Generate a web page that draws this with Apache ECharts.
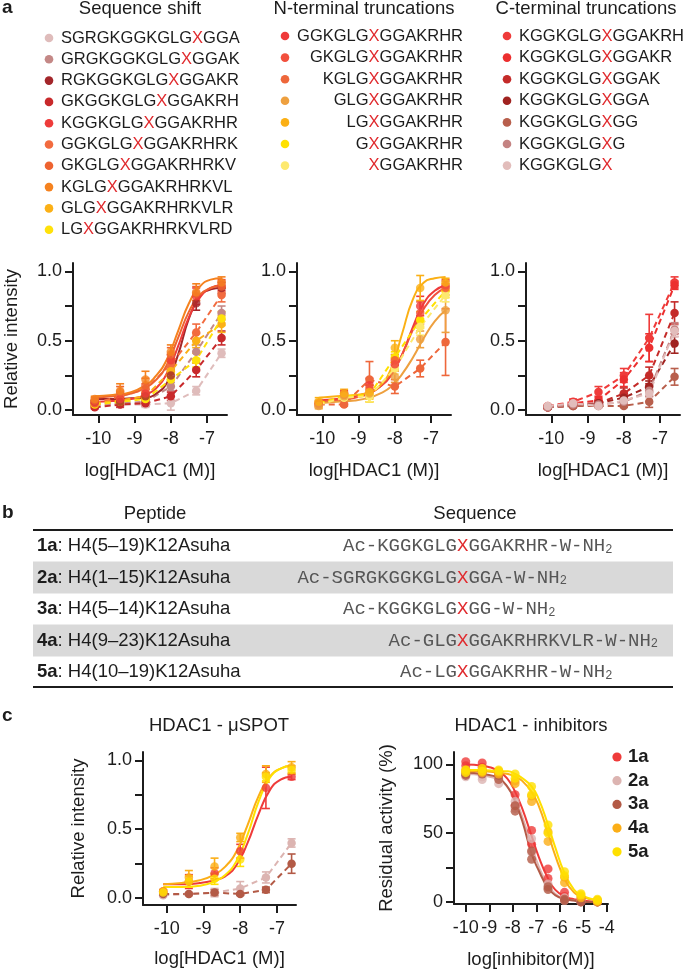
<!DOCTYPE html>
<html>
<head>
<meta charset="utf-8">
<script src="https://cdn.jsdelivr.net/npm/echarts@6.0.0/dist/echarts.min.js"></script>
<style>
html, body { margin: 0; padding: 0; background: #fff; }
#chart { width: 685px; height: 970px; }
</style>
</head>
<body>
<div id="chart"></div>
<script>
// ---------- data ----------
// HDAC1 concentrations (log M) used in the uSPOT titrations
var xHdac = [-10.1, -9.4, -8.7, -8.0, -7.3, -6.6];
var fitX = [-10.1, -9.6, -9.1, -8.7, -8.4, -8.1, -7.8, -7.5, -7.2, -6.9, -6.6];

// a, sequence shift
var shiftNames = ['SGRGKGGKGLGXGGA', 'GRGKGGKGLGXGGAK', 'RGKGGKGLGXGGAKR', 'GKGGKGLGXGGAKRH', 'KGGKGLGXGGAKRHR',
                  'GGKGLGXGGAKRHRK', 'GKGLGXGGAKRHRKV', 'KGLGXGGAKRHRKVL', 'GLGXGGAKRHRKVLR', 'LGXGGAKRHRKVLRD'];
var shiftColors = ['#dfbcbb', '#c48886', '#a3262a', '#c8292b', '#ee3b3a', '#f26b3f', '#ee6330', '#f5821f', '#fbb016', '#ffe10a'];
var shiftY = [
  [0.03, 0.04, 0.04, 0.05, 0.14, 0.41],
  [0.04, 0.05, 0.06, 0.17, 0.42, 0.70],
  [0.06, 0.06, 0.10, 0.25, 0.77, 0.88],
  [0.02, 0.04, 0.05, 0.10, 0.29, 0.52],
  [0.05, 0.08, 0.12, 0.36, 0.82, 0.90],
  [0.05, 0.10, 0.15, 0.33, 0.56, 0.83],
  [0.07, 0.13, 0.18, 0.40, 0.84, 0.89],
  [0.08, 0.14, 0.22, 0.42, 0.85, 0.92],
  [0.05, 0.07, 0.10, 0.28, 0.50, 0.62],
  [0.04, 0.06, 0.08, 0.22, 0.36, 0.66]
];
var shiftSD = [
  [0.01, 0.01, 0.02, 0.05, 0.03, 0.03],
  [0.01, 0.02, 0.02, 0.03, 0.05, 0.05],
  [0.01, 0.02, 0.02, 0.03, 0.05, 0.04],
  [0.01, 0.02, 0.02, 0.03, 0.05, 0.05],
  [0.02, 0.02, 0.03, 0.04, 0.06, 0.04],
  [0.02, 0.03, 0.04, 0.04, 0.06, 0.05],
  [0.02, 0.04, 0.05, 0.05, 0.05, 0.04],
  [0.02, 0.05, 0.06, 0.05, 0.06, 0.04],
  [0.02, 0.03, 0.03, 0.04, 0.05, 0.06],
  [0.02, 0.02, 0.03, 0.04, 0.05, 0.05]
];
var shiftFit = [null, null,
  [0.08, 0.08, 0.085, 0.09, 0.12, 0.20, 0.40, 0.66, 0.82, 0.87, 0.88],
  null,
  [0.06, 0.065, 0.08, 0.11, 0.16, 0.27, 0.46, 0.67, 0.81, 0.88, 0.90],
  null,
  [0.09, 0.10, 0.12, 0.16, 0.22, 0.33, 0.52, 0.71, 0.83, 0.88, 0.90],
  [0.10, 0.11, 0.13, 0.18, 0.25, 0.37, 0.57, 0.77, 0.89, 0.94, 0.95],
  null, null];

// a, N-terminal truncations
var ntermNames = ['GGKGLGXGGAKRHR', 'GKGLGXGGAKRHR', 'KGLGXGGAKRHR', 'GLGXGGAKRHR', 'LGXGGAKRHR', 'GXGGAKRHR', 'XGGAKRHR'];
var ntermColors = ['#ef3a3a', '#f2503d', '#ee673b', '#eea03f', '#fbb015', '#ffe100', '#fde96e'];
var ntermY = [
  [0.05, 0.12, 0.18, 0.33, 0.75, 0.90],
  [0.04, 0.11, 0.15, 0.36, 0.70, 0.88],
  [0.04, 0.04, 0.22, 0.17, 0.30, 0.49],
  [0.03, 0.10, 0.12, 0.24, 0.51, 0.72],
  [0.06, 0.12, 0.13, 0.45, 0.88, 0.92],
  [0.05, 0.10, 0.11, 0.38, 0.65, 0.86],
  [0.04, 0.09, 0.10, 0.30, 0.60, 0.83]
];
var ntermSD = [
  [0.02, 0.02, 0.05, 0.04, 0.07, 0.04],
  [0.02, 0.02, 0.05, 0.04, 0.08, 0.05],
  [0.02, 0.01, 0.13, 0.05, 0.06, 0.24],
  [0.02, 0.02, 0.06, 0.04, 0.06, 0.16],
  [0.03, 0.03, 0.05, 0.05, 0.09, 0.03],
  [0.02, 0.02, 0.05, 0.04, 0.06, 0.05],
  [0.02, 0.02, 0.04, 0.04, 0.06, 0.05]
];
var ntermFit = [
  [0.07, 0.08, 0.10, 0.13, 0.17, 0.25, 0.40, 0.60, 0.77, 0.86, 0.90],
  [0.06, 0.07, 0.09, 0.12, 0.17, 0.26, 0.40, 0.58, 0.73, 0.83, 0.88],
  null,
  [0.05, 0.06, 0.07, 0.09, 0.12, 0.17, 0.26, 0.38, 0.52, 0.64, 0.72],
  [0.09, 0.10, 0.11, 0.13, 0.18, 0.30, 0.55, 0.80, 0.92, 0.95, 0.96],
  null, null];

// a, C-terminal truncations
var ctermNames = ['KGGKGLGXGGAKRH', 'KGGKGLGXGGAKR', 'KGGKGLGXGGAK', 'KGGKGLGXGGA', 'KGGKGLGXGG', 'KGGKGLGXG', 'KGGKGLGX'];
var ctermColors = ['#ef3b3a', '#ec2f2f', '#c42b29', '#a02320', '#b85f4c', '#c48382', '#e2bdbb'];
var ctermY = [
  [0.03, 0.06, 0.13, 0.25, 0.52, 0.92],
  [0.02, 0.05, 0.07, 0.22, 0.45, 0.90],
  [0.02, 0.04, 0.05, 0.12, 0.25, 0.70],
  [0.02, 0.03, 0.05, 0.09, 0.17, 0.48],
  [0.02, 0.03, 0.03, 0.03, 0.06, 0.24],
  [0.02, 0.04, 0.04, 0.06, 0.14, 0.58],
  [0.03, 0.05, 0.03, 0.07, 0.12, 0.57]
];
var ctermSD = [
  [0.01, 0.02, 0.04, 0.05, 0.17, 0.04],
  [0.01, 0.02, 0.03, 0.05, 0.10, 0.03],
  [0.01, 0.01, 0.02, 0.04, 0.06, 0.08],
  [0.01, 0.01, 0.02, 0.03, 0.04, 0.07],
  [0.01, 0.01, 0.01, 0.01, 0.04, 0.06],
  [0.01, 0.01, 0.02, 0.02, 0.04, 0.05],
  [0.01, 0.01, 0.01, 0.02, 0.03, 0.04]
];
var ctermFit = [null, null, null, null, null, null, null];

// b, peptides
var pepIds = ['1a', '2a', '3a', '4a', '5a'];
var pepNames = ['H4(5\u201319)K12Asuha', 'H4(1\u201315)K12Asuha', 'H4(5\u201314)K12Asuha', 'H4(9\u201323)K12Asuha', 'H4(10\u201319)K12Asuha'];
var pepSeqs = ['Ac-KGGKGLGXGGAKRHR-W-NH', 'Ac-SGRGKGGKGLGXGGA-W-NH', 'Ac-KGGKGLGXGG-W-NH', 'Ac-GLGXGGAKRHRKVLR-W-NH', 'Ac-LGXGGAKRHR-W-NH'];

// c, uSPOT of the five peptides
var pepColors = ['#ef3b3a', '#dcb4b1', '#b35a46', '#fbae17', '#ffe000'];
var spotY = [
  [0.05, 0.12, 0.18, 0.34, 0.80, 0.88],
  [0.02, 0.03, 0.04, 0.07, 0.15, 0.40],
  [0.03, 0.03, 0.04, 0.03, 0.06, 0.25],
  [0.05, 0.15, 0.23, 0.44, 0.90, 0.95],
  [0.04, 0.12, 0.14, 0.28, 0.88, 0.93]
];
var spotSD = [
  [0.01, 0.05, 0.04, 0.05, 0.15, 0.02],
  [0.01, 0.01, 0.03, 0.05, 0.04, 0.03],
  [0.01, 0.01, 0.02, 0.01, 0.02, 0.07],
  [0.01, 0.05, 0.06, 0.03, 0.06, 0.04],
  [0.01, 0.04, 0.04, 0.05, 0.03, 0.03]
];
var spotFit = [
  [0.10, 0.10, 0.11, 0.13, 0.16, 0.24, 0.40, 0.61, 0.78, 0.86, 0.88],
  null, null,
  [0.10, 0.11, 0.13, 0.17, 0.23, 0.34, 0.53, 0.74, 0.88, 0.94, 0.96],
  [0.08, 0.08, 0.09, 0.12, 0.17, 0.27, 0.46, 0.70, 0.87, 0.94, 0.96]
];

// c, inhibition (two replicates per concentration)
var inhX = [-10, -9.3, -8.6, -7.9, -7.2, -6.5, -5.8, -5.1, -4.4];
var inhRep1 = [
  [102, 101, 95, 78, 52, 24, 7, 2, 1],
  [93, 91, 90, 73, 46, 13, 3, 1, 0],
  [93, 95, 92, 70, 37, 11, 2, 0, 0],
  [95, 95, 94, 88, 77, 51, 18, 4, 1],
  [96, 97, 95, 93, 84, 56, 22, 6, 2]
];
var inhRep2 = [
  [99, 98, 92, 70, 42, 17, 4, 1, 0],
  [91, 89, 86, 68, 36, 10, 1, 0, 0],
  [92, 93, 89, 66, 31, 9, 1, 0, 0],
  [96, 94, 93, 86, 73, 44, 14, 3, 0],
  [94, 95, 96, 90, 78, 50, 19, 5, 1]
];
var inhFitX = [-10, -9.3, -8.6, -8.2, -7.9, -7.6, -7.2, -6.9, -6.5, -6.2, -5.8, -5.4, -5.1, -4.4];
var inhFit = [
  [100, 99, 95, 89, 80, 68, 48, 33, 17, 9, 4, 2, 1, 0],
  [93, 92, 89, 83, 75, 62, 41, 26, 12, 6, 2, 1, 0, 0],
  [94, 93, 90, 83, 73, 59, 35, 23, 10, 5, 2, 1, 0, 0],
  [95, 95, 94, 93, 91, 88, 80, 70, 50, 34, 17, 7, 4, 1],
  [96, 96, 95, 95, 93, 90, 84, 75, 56, 40, 21, 9, 5, 1]
];

// tick marks
var hdacTicks = [-10, -9, -8, -7];
var inhTicks = [-10, -9, -8, -7, -6, -5, -4];
var fracTicks = [0, 0.25, 0.5, 0.75, 1];
var fracLabels = [0, 0.5, 1];
var pctTicks = [0, 25, 50, 75, 100];
var pctLabels = [0, 50, 100];

// ---------- chart ----------
var SANS = 'Liberation Sans, Arial, sans-serif';
var MONO = 'Liberation Mono, Courier New, monospace';
var INK = '#1c1c1c';
var XRED = '#e02a2e';

var dom = document.getElementById('chart');
var myChart = echarts.init(dom, null, { renderer: 'canvas' });

var grids = [
  { left: 73, top: 263, width: 154, height: 152 },
  { left: 297, top: 263, width: 154, height: 152 },
  { left: 526, top: 263, width: 154, height: 152 },
  { left: 143, top: 752, width: 153, height: 153 },
  { left: 454, top: 752, width: 154, height: 153 }
];

function xAxisFor(gi, min, max, ticks, name, gap) {
  return {
    type: 'value', gridIndex: gi, min: min, max: max,
    name: name, nameLocation: 'middle', nameGap: gap,
    nameTextStyle: { fontSize: 18.5, color: INK, fontFamily: SANS },
    axisLine: { show: true, onZero: false, lineStyle: { color: INK, width: 2 } },
    axisTick: { show: true, length: 8, customValues: ticks, lineStyle: { color: INK, width: 2 } },
    axisLabel: { customValues: ticks, color: INK, fontSize: 18, fontFamily: SANS, margin: 15 },
    splitLine: { show: false }
  };
}
function yAxisFor(gi, min, max, ticks, labels, fmt, name, gap) {
  return {
    type: 'value', gridIndex: gi, min: min, max: max,
    name: name, nameLocation: 'middle', nameGap: gap,
    nameTextStyle: { fontSize: 18.5, color: INK, fontFamily: SANS },
    axisLine: { show: true, onZero: false, lineStyle: { color: INK, width: 2 } },
    axisTick: { show: true, length: 8, customValues: ticks, lineStyle: { color: INK, width: 2 } },
    axisLabel: { customValues: labels, formatter: fmt, color: INK, fontSize: 18, fontFamily: SANS, margin: 11 },
    splitLine: { show: false }
  };
}
var fmt1 = function (v) { return v.toFixed(1); };
var fmt0 = function (v) { return String(v); };

var xAxes = [
  xAxisFor(0, -10.7, -6.45, hdacTicks, 'log[HDAC1 (M)]', 46),
  xAxisFor(1, -10.7, -6.45, hdacTicks, 'log[HDAC1 (M)]', 46),
  xAxisFor(2, -10.7, -6.45, hdacTicks, 'log[HDAC1 (M)]', 46),
  xAxisFor(3, -10.65, -6.48, hdacTicks, 'log[HDAC1 (M)]', 44),
  xAxisFor(4, -10.5, -3.95, inhTicks, 'log[inhibitor(M)]', 46)
];
var yAxes = [
  yAxisFor(0, -0.035, 1.06, fracTicks, fracLabels, fmt1, 'Relative intensity', 52),
  yAxisFor(1, -0.035, 1.06, fracTicks, fracLabels, fmt1, '', 0),
  yAxisFor(2, -0.035, 1.06, fracTicks, fracLabels, fmt1, '', 0),
  yAxisFor(3, -0.05, 1.06, fracTicks, fracLabels, fmt1, 'Relative intensity', 55),
  yAxisFor(4, -1.5, 109, pctTicks, pctLabels, fmt0, 'Residual activity (%)', 58)
];

function errRender(params, api) {
  var x = api.value(0);
  var top = api.coord([x, api.value(2)]);
  var bot = api.coord([x, api.value(1)]);
  var w = 4;
  var st = { stroke: api.visual('color'), lineWidth: 1.6 };
  return {
    type: 'group',
    children: [
      { type: 'line', shape: { x1: top[0], y1: top[1], x2: bot[0], y2: bot[1] }, style: st },
      { type: 'line', shape: { x1: top[0] - w, y1: top[1], x2: top[0] + w, y2: top[1] }, style: st },
      { type: 'line', shape: { x1: bot[0] - w, y1: bot[1], x2: bot[0] + w, y2: bot[1] }, style: st }
    ]
  };
}

var series = [];
function addTitration(gi, names, colors, ys, sds, fits) {
  names.forEach(function (nm, k) {
    var col = colors[k];
    series.push({
      type: 'custom', name: nm, xAxisIndex: gi, yAxisIndex: gi, z: 2,
      renderItem: errRender, itemStyle: { color: col },
      encode: { x: 0, y: [1, 2] },
      data: xHdac.map(function (x, i) { return [x, ys[k][i] - sds[k][i], ys[k][i] + sds[k][i]]; })
    });
    if (fits[k]) {
      series.push({
        type: 'line', name: nm, xAxisIndex: gi, yAxisIndex: gi, z: 3,
        smooth: 0.5, showSymbol: false, symbol: 'none',
        lineStyle: { color: col, width: 2 },
        data: fitX.map(function (x, i) { return [x, fits[k][i]]; })
      });
      series.push({
        type: 'scatter', name: nm, xAxisIndex: gi, yAxisIndex: gi, z: 4,
        symbol: 'circle', symbolSize: 8.5, itemStyle: { color: col },
        data: xHdac.map(function (x, i) { return [x, ys[k][i]]; })
      });
    } else {
      series.push({
        type: 'line', name: nm, xAxisIndex: gi, yAxisIndex: gi, z: 3,
        symbol: 'circle', symbolSize: 8.5, showSymbol: true,
        itemStyle: { color: col },
        lineStyle: { color: col, width: 2, type: [6, 4] },
        data: xHdac.map(function (x, i) { return [x, ys[k][i]]; })
      });
    }
  });
}
addTitration(0, shiftNames, shiftColors, shiftY, shiftSD, shiftFit);
addTitration(1, ntermNames, ntermColors, ntermY, ntermSD, ntermFit);
addTitration(2, ctermNames, ctermColors, ctermY, ctermSD, ctermFit);
addTitration(3, pepIds, pepColors, spotY, spotSD, spotFit);

pepIds.forEach(function (id, k) {
  series.push({
    type: 'line', name: id, xAxisIndex: 4, yAxisIndex: 4, z: 3,
    smooth: 0.5, showSymbol: false, symbol: 'none',
    lineStyle: { color: pepColors[k], width: 2 },
    data: inhFitX.map(function (x, i) { return [x, inhFit[k][i]]; })
  });
  series.push({
    type: 'scatter', name: id, xAxisIndex: 4, yAxisIndex: 4, z: 4,
    symbol: 'circle', symbolSize: 9, itemStyle: { color: pepColors[k] },
    data: inhX.map(function (x, i) { return [x, inhRep1[k][i]]; })
      .concat(inhX.map(function (x, i) { return [x, inhRep2[k][i]]; }))
  });
});

// ---------- text, legends and table ----------
var graphics = [];
function txt(x, y, s, opt) {
  opt = opt || {};
  graphics.push({
    type: 'text', x: x, y: y, z: 10,
    style: {
      text: s, fill: opt.fill || INK,
      font: (opt.weight || 'normal') + ' ' + (opt.size || 18.5) + 'px ' + (opt.family || SANS),
      align: opt.align || 'left', verticalAlign: 'middle',
      rich: opt.rich
    }
  });
}
function seqRich(s) {
  var p = s.split('X');
  var out = '';
  if (p[0]) out += '{n|' + p[0] + '}';
  out += '{r|X}';
  if (p[1]) out += '{n|' + p[1] + '}';
  return out;
}
var legRich = {
  n: { fill: INK, fontSize: 16.5, fontFamily: SANS },
  r: { fill: XRED, fontSize: 16.5, fontFamily: SANS }
};
function dot(cx, cy, r, col) {
  graphics.push({ type: 'circle', z: 10, shape: { cx: cx, cy: cy, r: r }, style: { fill: col } });
}

// panel letters
txt(2, 8, 'a', { weight: 'bold', size: 19 });
txt(2, 513, 'b', { weight: 'bold', size: 19 });
txt(2, 716, 'c', { weight: 'bold', size: 19 });

// panel a column titles
txt(140, 9, 'Sequence shift', { align: 'center' });
txt(364, 9, 'N-terminal truncations', { align: 'center' });
txt(586, 9, 'C-terminal truncations', { align: 'center' });

shiftNames.forEach(function (s, i) {
  var y = 38 + i * 21.3;
  dot(49, y, 4.3, shiftColors[i]);
  txt(61, y, seqRich(s), { size: 16.5, rich: legRich });
});
ntermNames.forEach(function (s, i) {
  var y = 36 + i * 21.6;
  dot(285, y, 4.3, ntermColors[i]);
  txt(463, y, seqRich(s), { size: 16.5, rich: legRich, align: 'right' });
});
ctermNames.forEach(function (s, i) {
  var y = 36 + i * 21.6;
  dot(507, y, 4.3, ctermColors[i]);
  txt(519, y, seqRich(s), { size: 16.5, rich: legRich });
});

// panel b table
var rowY = [546, 577.5, 609, 640.5, 672];
[1, 3].forEach(function (i) {
  graphics.push({ type: 'rect', z: 5, shape: { x: 33, y: rowY[i] - 16, width: 640, height: 32 }, style: { fill: '#d9d9d9' } });
});
graphics.push({ type: 'line', z: 6, shape: { x1: 33, y1: 530, x2: 673, y2: 530 }, style: { stroke: INK, lineWidth: 2 } });
graphics.push({ type: 'line', z: 6, shape: { x1: 33, y1: 687, x2: 673, y2: 687 }, style: { stroke: INK, lineWidth: 2 } });
txt(155, 514, 'Peptide', { align: 'center' });
txt(475, 514, 'Sequence', { align: 'center' });

var pepRich = {
  b: { fill: INK, fontSize: 18.5, fontFamily: SANS, fontWeight: 'bold' },
  n: { fill: INK, fontSize: 18.5, fontFamily: SANS }
};
var SEQ_INK = '#565656';
var seqStyle = {
  s: { fill: SEQ_INK, fontSize: 19, fontFamily: MONO },
  r: { fill: XRED, fontSize: 19, fontFamily: MONO },
  sub: { fill: SEQ_INK, fontSize: 12, fontFamily: MONO, verticalAlign: 'bottom' }
};
var charW = 11.4;
pepIds.forEach(function (id, i) {
  txt(37, rowY[i], '{b|' + id + '}{n|: ' + pepNames[i] + '}', { rich: pepRich });
  var s = pepSeqs[i];
  var ix = s.indexOf('X');
  var rich = '{s|' + s.slice(0, ix) + '}{r|X}{s|' + s.slice(ix + 1) + '}{sub|2}';
  txt(457 - ix * charW, rowY[i], rich, { rich: seqStyle, family: MONO, size: 19 });
});

// panel c titles and legend
txt(219, 726, 'HDAC1 - \u03bcSPOT', { align: 'center' });
txt(531, 726, 'HDAC1 - inhibitors', { align: 'center' });
pepIds.forEach(function (id, i) {
  var y = 757 + i * 23.7;
  dot(617, y, 4.6, pepColors[i]);
  txt(628, y, id, { weight: 'bold', size: 18.5 });
});

var option = {
  animation: false,
  backgroundColor: '#ffffff',
  textStyle: { fontFamily: SANS },
  grid: grids,
  xAxis: xAxes,
  yAxis: yAxes,
  series: series,
  graphic: graphics
};
myChart.setOption(option);
</script>
</body>
</html>
